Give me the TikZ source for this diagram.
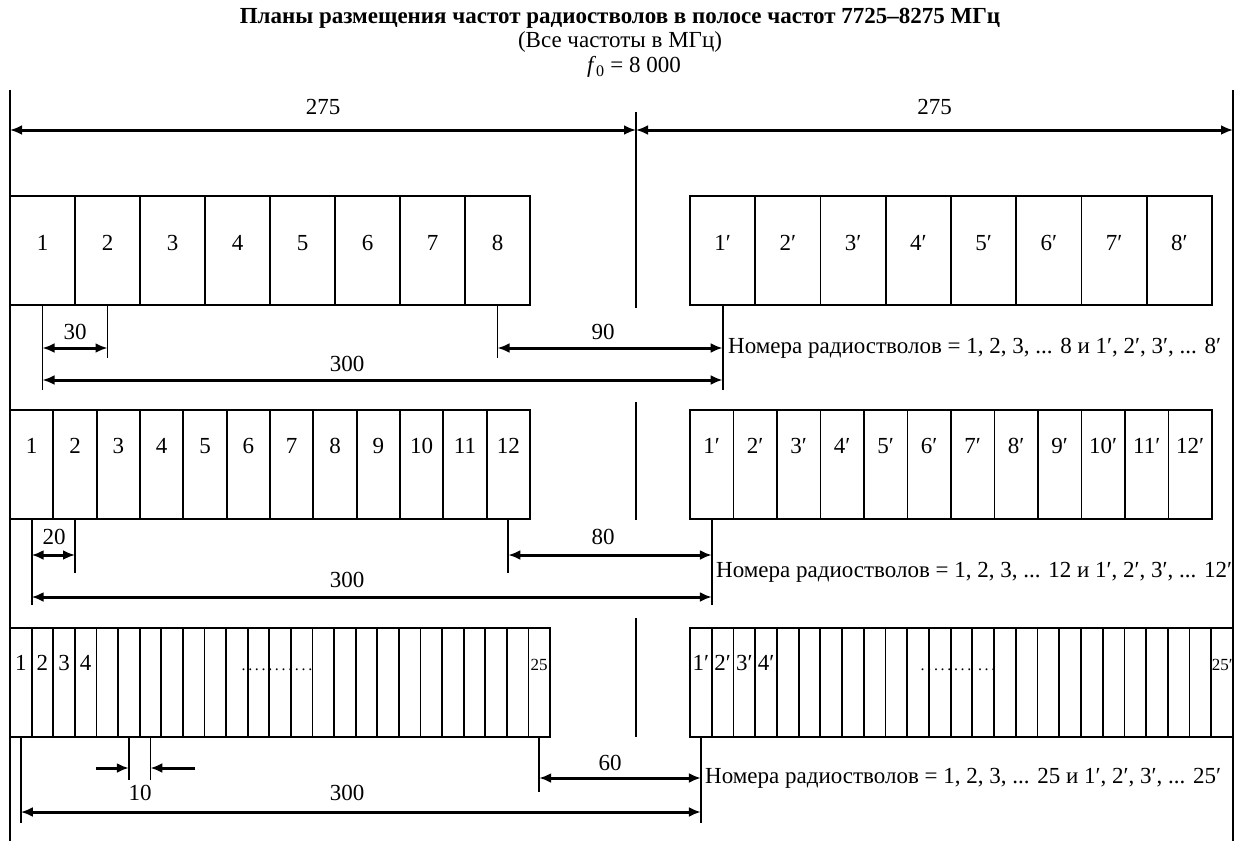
\documentclass[tikz,border=0pt]{standalone}
\usepackage{fontspec}
\setmainfont{Liberation Serif}
\usetikzlibrary{arrows.meta}
\tikzset{
  box/.style={line width=2.4pt},
  divider/.style={line width=1.8pt},
  tickline/.style={line width=1.8pt},
  dimarrow/.style={line width=3pt,{Latex[length=12pt,width=10pt]}-{Latex[length=12pt,width=10pt]}},
  halfarrow/.style={line width=3pt,-{Latex[length=12pt,width=10pt]}},
  num/.style={font=\fontsize{23}{26}\selectfont,inner sep=0pt,anchor=base},
  small/.style={font=\fontsize{17}{20}\selectfont,inner sep=0pt,anchor=base},
  dotrow/.style={font=\fontsize{16}{18}\selectfont,inner sep=0pt,anchor=base},
  lbl/.style={font=\fontsize{23}{26}\selectfont,inner sep=0pt},
}
\begin{document}
\begin{tikzpicture}[x=1pt,y=-1pt]
\useasboundingbox (0,0) rectangle (1240,841);
\node[lbl,font=\fontsize{23}{26}\selectfont\bfseries] (title) at (620,18) {Планы размещения частот радиостволов в полосе частот 7725–8275 МГц};
\node[lbl] (sub) at (620,42) {(Все частоты в МГц)};
\node[lbl] (fnull) at (634,67) {\textit{f}\textsubscript{0} = 8 000};
\draw[tickline] (10,90) -- (10,841);
\draw[tickline] (1233,90) -- (1233,841);
\draw[tickline] (636,112) -- (636,308);
\draw[tickline] (636,402) -- (636,520);
\draw[tickline] (636,618) -- (636,737);
\coordinate (L) at (10,130);
\coordinate (C) at (636,130);
\coordinate (R) at (1233,130);
\draw[dimarrow] (L) -- (C) node[lbl,midway,above=14pt] (h1) {275};
\draw[dimarrow] (C) -- (R) node[lbl,midway,above=14pt] (h2) {275};
% plan 1: 8 radio channels
\draw[box] (10,196) rectangle (530,305);
\foreach \i in {1,...,7} \draw[divider] ({10+65*\i},196) -- ++(0,109);
\foreach \i in {1,...,8} \node[num] (a\i) at ({10+65*(\i-0.5)},250) {\i};
\draw[box] (690,196) rectangle (1212,305);
\foreach \i in {1,...,7} \draw[divider] ({690+65.25*\i},196) -- ++(0,109);
\foreach \i in {1,...,8} \node[num] (b\i) at ({690+65.25*(\i-0.5)},250) {\i′};
\draw[tickline] (42.5,305) -- (42.5,390);
\draw[tickline] (107.5,305) -- (107.5,358);
\draw[tickline] (497.5,305) -- (497.5,358);
\draw[tickline] (722.6,305) -- (722.6,390);
\coordinate (p1a) at (42.5,348);
\coordinate (p1b) at (107.5,348);
\coordinate (p1c) at (497.5,348);
\coordinate (p1d) at (722.6,348);
\coordinate (p1e) at (42.5,380);
\coordinate (p1f) at (722.6,380);
\draw[dimarrow] (p1a) -- (p1b);
\draw[dimarrow] (p1c) -- (p1d);
\draw[dimarrow] (p1e) -- (p1f);
\node[lbl] (w1) at (75,332) {30};
\node[lbl] (g1) at (603,332) {90};
\node[lbl] (s1) at (347,364) {300};
\node[lbl,anchor=west] (n1) at (728,348) {Номера радиостволов = 1, 2, 3, ... 8 и 1′, 2′, 3′, ... 8′};
% plan 2: 12 radio channels
\draw[box] (10,410) rectangle (530,519);
\foreach \i in {1,...,11} \draw[divider] ({10+520/12*\i},410) -- ++(0,109);
\foreach \i in {1,...,12} \node[num] (c\i) at ({10+520/12*(\i-0.5)},453) {\i};
\draw[box] (690,410) rectangle (1212,519);
\foreach \i in {1,...,11} \draw[divider] ({690+43.5*\i},410) -- ++(0,109);
\foreach \i in {1,...,12} \node[num] (d\i) at ({690+43.5*(\i-0.5)},453) {\i′};
\draw[tickline] (31.7,519) -- (31.7,605);
\draw[tickline] (75,519) -- (75,573);
\draw[tickline] (508.3,519) -- (508.3,573);
\draw[tickline] (711.8,519) -- (711.8,605);
\coordinate (p2a) at (31.7,555);
\coordinate (p2b) at (75,555);
\coordinate (p2c) at (508.3,555);
\coordinate (p2d) at (711.8,555);
\coordinate (p2e) at (31.7,597);
\coordinate (p2f) at (711.8,597);
\draw[dimarrow] (p2a) -- (p2b);
\draw[dimarrow] (p2c) -- (p2d);
\draw[dimarrow] (p2e) -- (p2f);
\node[lbl] (w2) at (54,537) {20};
\node[lbl] (g2) at (603,537) {80};
\node[lbl] (s2) at (347,580) {300};
\node[lbl,anchor=west] (n2) at (716,572) {Номера радиостволов = 1, 2, 3, ... 12 и 1′, 2′, 3′, ... 12′};
% plan 3: 25 radio channels
\draw[box] (10,628) rectangle (550,737);
\foreach \i in {1,...,24} \draw[divider] ({10+21.6*\i},628) -- ++(0,109);
\foreach \i in {1,...,4} \node[num] (e\i) at ({10+21.6*(\i-0.5)},670) {\i};
\node[small] (e25) at ({10+21.6*24.5},670) {25};
\node[dotrow] (edots) at (277,670) {.\,.\,.\,.\,.\,.\,.\,.\,.\,.\,.};
\draw[box] (690,628) rectangle (1233,737);
\foreach \i in {1,...,24} \draw[divider] ({690+21.72*\i},628) -- ++(0,109);
\foreach \i in {1,...,4} \node[num] (f\i) at ({690+21.72*(\i-0.5)},670) {\i′};
\node[small] (f25) at ({690+21.72*24.5},670) {25′};
\node[dotrow] (fdots) at (958,670) {.\,.\,.\,.\,.\,.\,.\,.\ \,.\,.\,.};
\draw[tickline] (20.8,737) -- (20.8,823);
\draw[tickline] (128.8,737) -- (128.8,780);
\draw[tickline] (150.4,737) -- (150.4,780);
\draw[tickline] (539.2,737) -- (539.2,792);
\draw[tickline] (700.9,737) -- (700.9,823);
\coordinate (q1) at (96,768);
\coordinate (q2) at (128.8,768);
\coordinate (q3) at (195,768);
\coordinate (q4) at (150.4,768);
\coordinate (p3c) at (539.2,778);
\coordinate (p3d) at (700.9,778);
\coordinate (p3e) at (20.8,812);
\coordinate (p3f) at (700.9,812);
\draw[halfarrow] (q1) -- (q2);
\draw[halfarrow] (q3) -- (q4);
\draw[dimarrow] (p3c) -- (p3d);
\draw[dimarrow] (p3e) -- (p3f);
\node[lbl] (w3) at (140,793) {10};
\node[lbl] (g3) at (610,763) {60};
\node[lbl] (s3) at (347,793) {300};
\node[lbl,anchor=west] (n3) at (705,778) {Номера радиостволов = 1, 2, 3, ... 25 и 1′, 2′, 3′, ... 25′};
\end{tikzpicture}
\end{document}
